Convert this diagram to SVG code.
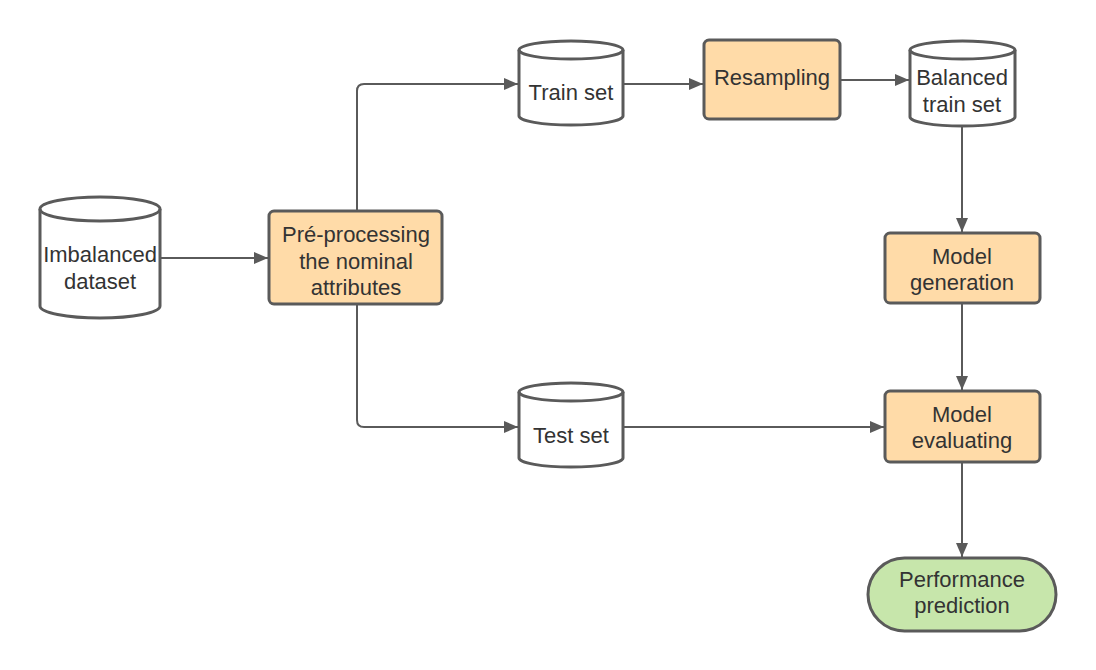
<svg xmlns="http://www.w3.org/2000/svg" width="1096" height="670" viewBox="0 0 1096 670">
<style>
.n{stroke:#5a5a5a;stroke-width:3;}
.db{fill:#fff;}
.proc{fill:#ffdba8;}
.term{fill:#c7e6ab;}
.t{font-family:"Liberation Sans",Arial,sans-serif;font-size:22px;fill:#333;text-anchor:middle;}
.c{fill:none;stroke:#5a5a5a;stroke-width:2;}
</style>
<defs>
<marker id="ah" markerWidth="14" markerHeight="12" refX="14" refY="6" orient="auto" markerUnits="userSpaceOnUse">
<path d="M0,0 L14,6 L0,12 Z" fill="#5a5a5a"/>
</marker>
</defs>
<rect width="1096" height="670" fill="#fff"/>
<g id="connectors">
<path class="c" d="M160,258 H268" marker-end="url(#ah)"/>
<path class="c" d="M357,211 V91 Q357,84 364,84 H518" marker-end="url(#ah)"/>
<path class="c" d="M357,304 V420 Q357,427 364,427 H518" marker-end="url(#ah)"/>
<path class="c" d="M623,84 H703" marker-end="url(#ah)"/>
<path class="c" d="M840,80 H909" marker-end="url(#ah)"/>
<path class="c" d="M962,127 V232" marker-end="url(#ah)"/>
<path class="c" d="M962,303 V390" marker-end="url(#ah)"/>
<path class="c" d="M623,427 H884" marker-end="url(#ah)"/>
<path class="c" d="M962,462 V557" marker-end="url(#ah)"/>
</g>
<g id="imbalanced">
<path class="n db" d="M40,209 A60,12 0 0 1 160,209 V306 A60,12 0 0 1 40,306 Z"/>
<path class="n" fill="none" d="M40,209 A60,12 0 0 0 160,209"/>
<text class="t" x="100" y="262">Imbalanced</text>
<text class="t" x="100" y="289">dataset</text>
</g>
<g id="preprocessing">
<rect class="n proc" x="269" y="211" width="173" height="93" rx="5"/>
<text class="t" x="356" y="242">Pré-processing</text>
<text class="t" x="356" y="269">the nominal</text>
<text class="t" x="356" y="295">attributes</text>
</g>
<g id="trainset">
<path class="n db" d="M519,50 A52,9 0 0 1 623,50 V116 A52,9 0 0 1 519,116 Z"/>
<path class="n" fill="none" d="M519,50 A52,9 0 0 0 623,50"/>
<text class="t" x="571" y="100">Train set</text>
</g>
<g id="resampling">
<rect class="n proc" x="704" y="40" width="136" height="79" rx="5"/>
<text class="t" x="772" y="85">Resampling</text>
</g>
<g id="balanced">
<path class="n db" d="M910,50 A52.5,9 0 0 1 1015,50 V117 A52.5,9 0 0 1 910,117 Z"/>
<path class="n" fill="none" d="M910,50 A52.5,9 0 0 0 1015,50"/>
<text class="t" x="962" y="85">Balanced</text>
<text class="t" x="962" y="112">train set</text>
</g>
<g id="modelgen">
<rect class="n proc" x="885" y="233" width="155" height="70" rx="5"/>
<text class="t" x="962" y="264">Model</text>
<text class="t" x="962" y="290">generation</text>
</g>
<g id="testset">
<path class="n db" d="M519,392 A52,9 0 0 1 623,392 V458 A52,9 0 0 1 519,458 Z"/>
<path class="n" fill="none" d="M519,392 A52,9 0 0 0 623,392"/>
<text class="t" x="571" y="443">Test set</text>
</g>
<g id="modeleval">
<rect class="n proc" x="885" y="391" width="155" height="71" rx="5"/>
<text class="t" x="962" y="422">Model</text>
<text class="t" x="962" y="448">evaluating</text>
</g>
<g id="performance">
<rect class="n term" x="868" y="558" width="188" height="73" rx="36.5"/>
<text class="t" x="962" y="587">Performance</text>
<text class="t" x="962" y="613">prediction</text>
</g>
</svg>
